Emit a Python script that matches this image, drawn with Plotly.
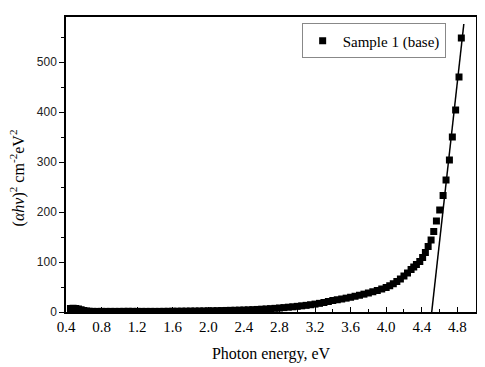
import plotly.graph_objects as go

# Photon energy (eV) and (alpha h nu)^2 values
energy = [0.45, 0.48, 0.51, 0.54, 0.57, 0.60, 0.63, 0.66, 0.70, 0.75,
          0.80, 0.85, 0.90, 0.95, 1.00, 1.05, 1.10, 1.15, 1.20, 1.25,
          1.30, 1.35, 1.40, 1.45, 1.50, 1.55, 1.60, 1.65, 1.70, 1.75,
          1.80, 1.85, 1.90, 1.95, 2.00, 2.05, 2.10, 2.15, 2.20, 2.25,
          2.30, 2.35, 2.40, 2.45, 2.50, 2.55, 2.60, 2.65, 2.70, 2.75,
          2.80, 2.85, 2.90, 2.95, 3.00, 3.05, 3.10, 3.15, 3.20, 3.25,
          3.30, 3.35, 3.40, 3.45, 3.50, 3.55, 3.60, 3.65, 3.70, 3.75,
          3.80, 3.85, 3.90, 3.95, 4.00, 4.04, 4.08, 4.12, 4.16, 4.20,
          4.24, 4.28, 4.31, 4.34, 4.378, 4.41, 4.441, 4.472, 4.505, 4.535,
          4.565, 4.602, 4.64, 4.673, 4.711, 4.744, 4.781, 4.819, 4.845]
alpha_hv_sq = [7.0, 7.5, 7.0, 6.0, 4.5, 3.0, 2.0, 1.5, 1.2, 1.2,
               1.2, 1.2, 1.2, 1.2, 1.2, 1.3, 1.4, 1.3, 1.2, 1.2,
               1.2, 1.2, 1.2, 1.2, 1.3, 1.4, 1.5, 1.6, 1.7, 1.8,
               1.9, 2.0, 2.1, 2.2, 2.4, 2.5, 2.7, 2.9, 3.1, 3.3,
               3.5, 3.7, 4.0, 4.3, 4.7, 5.1, 5.6, 6.1, 6.7, 7.3,
               8.0, 8.8, 9.6, 10.4, 11.3, 12.3, 13.3, 14.5, 15.8, 17.3,
               19.0, 21.0, 23.0, 24.5, 26.0, 27.7, 29.5, 31.5, 33.5, 35.7,
               38.0, 40.5, 43.0, 46.0, 49.0, 52.5, 56.5, 61.0, 66.0, 72.0,
               78.0, 85.0, 90.0, 95.0, 101.0, 109.0, 119.0, 131.0, 144.0, 161.0,
               182.0, 204.0, 233.0, 264.0, 304.0, 350.0, 404.0, 470.0, 548.0]

# Linear fit (Tauc extrapolation) end points
fit_x = [4.512, 4.873]
fit_y = [0.0, 576.0]

x_ticks = [0.4, 0.8, 1.2, 1.6, 2.0, 2.4, 2.8, 3.2, 3.6, 4.0, 4.4, 4.8]
x_tick_labels = ["0.4", "0.8", "1.2", "1.6", "2.0", "2.4", "2.8", "3.2", "3.6", "4.0", "4.4", "4.8"]
y_ticks = [0, 100, 200, 300, 400, 500]

serif = "Times New Roman, Liberation Serif, DejaVu Serif, serif"
sans = "Arial, Liberation Sans, sans-serif"

fig = go.Figure()
fig.add_trace(go.Scatter(
    x=energy, y=alpha_hv_sq, mode="markers", name="Sample 1 (base)",
    marker=dict(symbol="square", size=7, color="black", line=dict(width=0)),
))
fig.add_trace(go.Scatter(
    x=fit_x, y=fit_y, mode="lines", showlegend=False,
    line=dict(color="black", width=1.5),
))

# the page body has an 8px margin, so the figure is shrunk by 8px in each direction
fig.update_layout(
    width=477, height=359,
    margin=dict(l=58, r=8, t=7, b=55),
    paper_bgcolor="white", plot_bgcolor="white",
    showlegend=True,
    legend=dict(
        x=0.926, y=0.978, xanchor="right", yanchor="top",
        bordercolor="#888888", borderwidth=1, bgcolor="white",
        font=dict(family=serif, size=15, color="black"),
        itemwidth=30,
    ),
    xaxis=dict(
        range=[0.4, 5.01],
        tickvals=x_ticks, ticktext=x_tick_labels,
        ticks="inside", ticklen=5, tickwidth=1.2, tickcolor="black",
        minor=dict(ticks="inside", ticklen=3, dtick=0.2, tick0=0.4, tickcolor="black", tickwidth=1),
        showline=True, linecolor="black", linewidth=1.5, mirror=True,
        showgrid=False, zeroline=False,
        tickfont=dict(family=serif, size=15, color="black"),
        title=dict(text="Photon energy, eV", font=dict(family=serif, size=16, color="black"), standoff=14),
    ),
    yaxis=dict(
        range=[0, 590],
        tickvals=y_ticks,
        ticks="outside", ticklen=5, tickwidth=1.2, tickcolor="black",
        minor=dict(ticks="outside", ticklen=3, dtick=50, tick0=0, tickcolor="black", tickwidth=1),
        showline=True, linecolor="black", linewidth=1.5, mirror=True,
        showgrid=False, zeroline=False,
        tickfont=dict(family=sans, size=12, color="#222222"),
    ),
    annotations=[dict(
        text="(<i>αhν</i>)<sup>2</sup> cm<sup>-2</sup>eV<sup>2</sup>",
        xref="paper", yref="paper", x=-0.118, y=0.455,
        xanchor="center", yanchor="middle", textangle=-90, showarrow=False,
        font=dict(family=serif, size=16, color="black"),
    )],
)

fig.write_html("out.html")
